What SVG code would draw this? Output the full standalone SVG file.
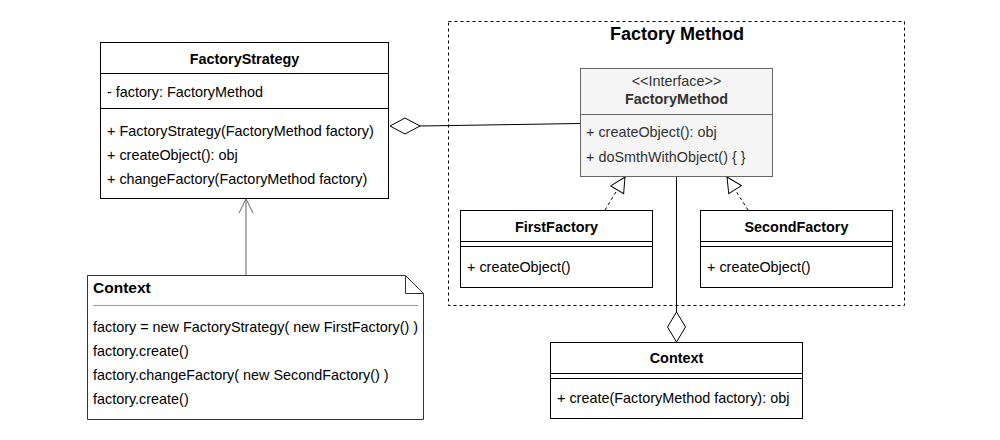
<svg xmlns="http://www.w3.org/2000/svg" width="1000" height="440" viewBox="0 0 1000 440">
<style>
text{font-family:"Liberation Sans",Arial,sans-serif;font-size:14.4px;fill:#000}
.b{font-weight:bold}
.c{text-anchor:middle}
.box{fill:#fff;stroke:#000;stroke-width:1}
.ln{stroke:#000;stroke-width:1;fill:none}
</style>
<defs>
<marker id="tri" markerWidth="18" markerHeight="18" refX="16" refY="9" orient="auto" markerUnits="userSpaceOnUse">
<path d="M1,1.5 L16,9 L1,16.5 Z" fill="#fff" stroke="#000"/>
</marker>
<marker id="open" markerWidth="16" markerHeight="16" refX="15" refY="8" orient="auto" markerUnits="userSpaceOnUse">
<path d="M1,1 L15,8 L1,15" fill="none" stroke="#666"/>
</marker>
</defs>
<rect x="0" y="0" width="1000" height="440" fill="#fff"/>
<g id="frame">
<rect x="448.5" y="21.5" width="456" height="284" fill="none" stroke="#000" stroke-dasharray="3,3"/>
<text x="677" y="40" class="b c" style="font-size:18px">Factory Method</text>
</g>
<g id="connectors">
<path class="ln" d="M420,126 L580,123.5"/>
<path d="M390,126 L405,118 L420,126 L405,134 Z" fill="#fff" stroke="#000"/>
<path class="ln" d="M605,210 L625,177" stroke-dasharray="3,3" marker-end="url(#tri)"/>
<path class="ln" d="M748,210 L727,177" stroke-dasharray="3,3" marker-end="url(#tri)"/>
<path class="ln" d="M676.5,177 L676.5,312"/>
<path d="M676.5,312 L685.5,327 L676.5,342 L667.5,327 Z" fill="#fff" stroke="#000"/>
<path d="M246,275 L246,199" fill="none" stroke="#666" marker-end="url(#open)"/>
</g>
<g id="FactoryStrategy">
<rect class="box" x="100.5" y="42.5" width="288" height="156"/>
<path class="ln" d="M100.5,73.5 H388.5 M100.5,108.5 H388.5"/>
<text x="244.5" y="64" class="b c">FactoryStrategy</text>
<text x="107" y="97">- factory: FactoryMethod</text>
<text x="107" y="136">+ FactoryStrategy(FactoryMethod factory)</text>
<text x="107" y="160">+ createObject(): obj</text>
<text x="107" y="184">+ changeFactory(FactoryMethod factory)</text>
</g>
<g id="FactoryMethod">
<rect x="580.5" y="68.5" width="192" height="108" fill="#f5f5f5" stroke="#666"/>
<path d="M580.5,114.5 H772.5" stroke="#666"/>
<text x="676.5" y="86" class="c" style="fill:#333">&lt;&lt;Interface&gt;&gt;</text>
<text x="676.5" y="104" class="b c" style="fill:#333">FactoryMethod</text>
<text x="586" y="137" style="fill:#333">+ createObject(): obj</text>
<text x="586" y="162" style="fill:#333">+ doSmthWithObject() { }</text>
</g>
<g id="FirstFactory">
<rect class="box" x="460.5" y="210.5" width="192" height="77"/>
<path class="ln" d="M460.5,241.5 H652.5 M460.5,246.5 H652.5"/>
<text x="556.5" y="232" class="b c">FirstFactory</text>
<text x="467" y="272">+ createObject()</text>
</g>
<g id="SecondFactory">
<rect class="box" x="700.5" y="210.5" width="192" height="77"/>
<path class="ln" d="M700.5,241.5 H892.5 M700.5,246.5 H892.5"/>
<text x="796.5" y="232" class="b c">SecondFactory</text>
<text x="707" y="272">+ createObject()</text>
</g>
<g id="Context">
<rect class="box" x="550.5" y="342.5" width="252" height="76"/>
<path class="ln" d="M550.5,373.5 H802.5 M550.5,378.5 H802.5"/>
<text x="676.5" y="363" class="b c">Context</text>
<text x="557" y="403">+ create(FactoryMethod factory): obj</text>
</g>
<g id="ContextNote">
<path d="M87.5,275.5 H405.5 L423.5,293.5 V419.5 H87.5 Z" fill="#fff" stroke="#333"/>
<path d="M405.5,275.5 V293.5 H423.5" fill="none" stroke="#333"/>
<path d="M93,305.5 H418" stroke="#999"/>
<text x="93" y="293" class="b" style="font-size:15.5px">Context</text>
<text x="93" y="332">factory = new FactoryStrategy( new FirstFactory() )</text>
<text x="93" y="356">factory.create()</text>
<text x="93" y="380">factory.changeFactory( new SecondFactory() )</text>
<text x="93" y="404">factory.create()</text>
</g>
</svg>
